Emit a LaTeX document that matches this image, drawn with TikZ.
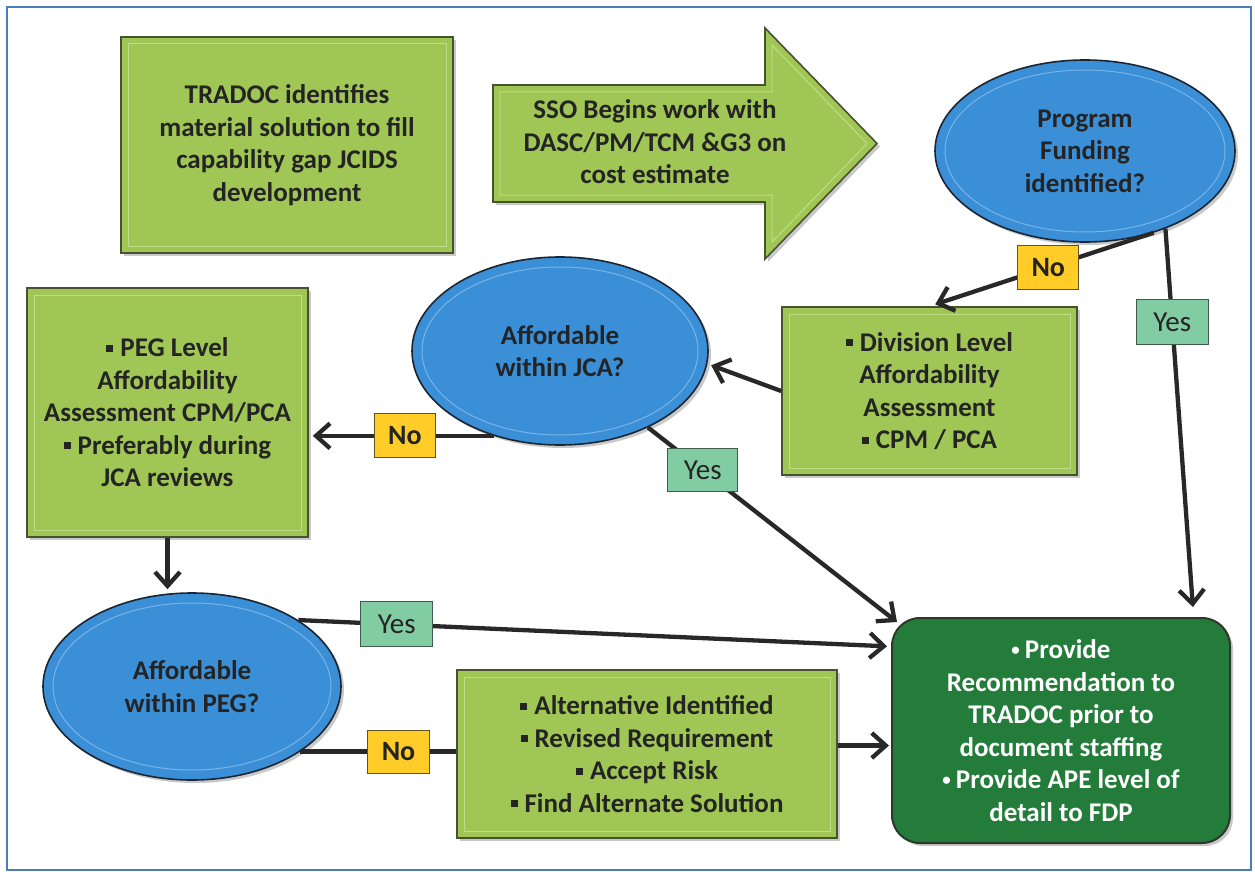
\documentclass[tikz,border=0pt]{standalone}
\usepackage{fontspec}
\setmainfont{Carlito}
\usetikzlibrary{arrows.meta,shapes.geometric,shadows,calc}

\definecolor{frameblue}{RGB}{74,126,187}
\definecolor{leaf}{RGB}{160,198,86}
\definecolor{leafedge}{RGB}{72,82,48}
\definecolor{leafline}{RGB}{192,220,134}
\definecolor{sky}{RGB}{58,143,214}
\definecolor{skyedge}{RGB}{28,38,50}
\definecolor{skyline}{RGB}{120,180,232}
\definecolor{forest}{RGB}{36,124,58}
\definecolor{forestedge}{RGB}{45,55,45}
\definecolor{mint}{RGB}{130,204,164}
\definecolor{mintedge}{RGB}{62,92,74}
\definecolor{gold}{RGB}{255,204,40}
\definecolor{goldedge}{RGB}{96,84,30}
\definecolor{ink}{RGB}{36,36,36}
\definecolor{wire}{RGB}{40,40,40}

% small square bullet
\newcommand{\sqbul}{\rule[5pt]{7pt}{7pt}\hspace{7pt}}
% small round bullet
\newcommand{\dotbul}{{\fontsize{17}{17}\selectfont\raisebox{3pt}{\textbullet}}\hspace{5pt}}

\tikzset{
  txt/.style={font=\fontsize{27}{32.5}\selectfont\bfseries, text=ink, align=center, inner sep=0pt},
  softshadow/.style={drop shadow={shadow xshift=3pt, shadow yshift=-3pt, opacity=0.35, fill=black!60}},
  bevelbox/.style={txt, rectangle, draw=leafedge, line width=1.6pt, fill=leaf, softshadow,
    path picture={\draw[leafline, line width=1pt]
      ([shift={(7pt,-7pt)}]path picture bounding box.north west) rectangle
      ([shift={(-7pt,7pt)}]path picture bounding box.south east);}},
  question/.style={txt, ellipse, draw=skyedge, line width=1.6pt, fill=sky, softshadow,
    path picture={\draw[skyline, line width=1pt]
      let \p1=(path picture bounding box.south west), \p2=(path picture bounding box.north east) in
      (path picture bounding box.center) ellipse [x radius={0.5*abs(\x2-\x1)-10pt}, y radius={0.5*abs(\y2-\y1)-10pt}];}},
  outcome/.style={txt, text=white, rectangle, rounded corners=28pt, draw=forestedge, line width=2pt, fill=forest, softshadow},
  nolabel/.style={rectangle, draw=goldedge, line width=1pt, fill=gold, inner sep=0pt,
    minimum width=61pt, minimum height=44pt, text=ink, font=\fontsize{28}{30}\selectfont\bfseries},
  yeslabel/.style={rectangle, draw=mintedge, line width=1pt, fill=mint, inner sep=0pt,
    minimum width=72pt, minimum height=45pt, text=ink, font=\fontsize{29}{30}\selectfont},
  flow/.style={draw=wire, line width=4.3pt, -{Straight Barb[length=14pt,width=25pt]}},
  plainwire/.style={draw=wire, line width=4.3pt},
}

\begin{document}
\begin{tikzpicture}[x=1pt, y=-1pt]
\useasboundingbox (0,0) rectangle (1255,872);
\fill[white] (0,0) rectangle (1255,872);
\draw[frameblue, line width=2.5pt] (7,7) rectangle (1251,870);

% starting box
\node[bevelbox, minimum width=332pt, minimum height=216pt] (tradoc) at (287,145)
  {TRADOC identifies\\material solution to fill\\capability gap JCIDS\\development};

% block arrow with its caption
\path[draw=leafedge, line width=1.6pt, fill=leaf, softshadow]
  (493,85) -- (765,85) -- (765,28) -- (877,143.5) -- (765,259) -- (765,202) -- (493,202) -- cycle;
\draw[leafline, line width=1pt]
  (500,92) -- (772,92) -- (772,45) -- (867,143.5) -- (772,242) -- (772,195) -- (500,195) -- cycle;
\node[txt] (sso) at (655,142) {SSO Begins work with\\DASC/PM/TCM \&G3 on\\cost estimate};

% decisions
\node[question, minimum width=300pt, minimum height=182pt] (pf) at (1085,151)
  {Program\\Funding\\identified?};
\node[question, minimum width=296pt, minimum height=188pt] (jca) at (560,351)
  {Affordable\\within JCA?};
\node[question, minimum width=298pt, minimum height=187pt] (pegq) at (192,686.5)
  {Affordable\\within PEG?};

% assessment boxes
\node[bevelbox, minimum width=295pt, minimum height=168pt] (div) at (929.5,391)
  {\sqbul Division Level\\Affordability\\Assessment\\\sqbul CPM / PCA};
\node[bevelbox, minimum width=281pt, minimum height=249pt] (peg) at (167.5,412.5)
  {\sqbul PEG Level\\Affordability\\Assessment CPM/PCA\\\sqbul Preferably during\\JCA reviews};
\node[bevelbox, minimum width=380pt, minimum height=168pt] (alt) at (647,754)
  {\sqbul Alternative Identified\\\sqbul Revised Requirement\\\sqbul Accept Risk\\\sqbul Find Alternate Solution};

% final recommendation
\node[outcome, minimum width=338pt, minimum height=225pt] (gb) at (1061,730.5)
  {\dotbul Provide\\Recommendation to\\TRADOC prior to\\document staffing\\\dotbul Provide APE level of\\detail to FDP};

% connector end points on box borders
\coordinate (gbtop) at ($(gb.north west)!0.89!(gb.north east)$);
\coordinate (gbcorner) at ($(gb.north west)+(6,5)$);
\coordinate (gbside) at ($(gb.north west)!0.13!(gb.south west)$);
\coordinate (pegin) at ($(peg.north east)!0.58!(peg.south east)$);
\coordinate (altout) at ($(alt.north east)!0.45!(alt.south east)$);

% connectors
\draw[flow, shorten >=6pt] (pf.-50) -- node[nolabel, pos=0.47] (pfno) {No} (div.north);
\draw[flow, shorten >=10pt] (pf.-44) -- node[yeslabel, pos=0.24] (pfyes) {Yes} (gbtop);
\draw[flow, shorten >=4pt] (div.west) -- (jca.-5);
\draw[flow, shorten >=4pt] (jca.232) -- node[nolabel, pos=0.48] (jcano) {No} (jca.232 -| pegin);
\draw[flow] (jca.-41) -- node[yeslabel, pos=0.22, minimum width=70pt, minimum height=43pt] (jcayes) {Yes} (gbcorner);
\draw[flow, shorten >=3pt] (peg.south) -- (peg.south |- pegq.north);
\draw[flow, shorten >=4pt] (pegq.32) -- node[yeslabel, pos=0.166] (pegyes) {Yes} (gbside);
\draw[plainwire] (pegq.-31) -- node[nolabel, pos=0.63, minimum width=62pt, minimum height=43pt] (pegno) {No} (pegq.-31 -| alt.west);
\draw[flow, shorten >=2pt] (altout) -- (altout -| gb.west);

\end{tikzpicture}
\end{document}
